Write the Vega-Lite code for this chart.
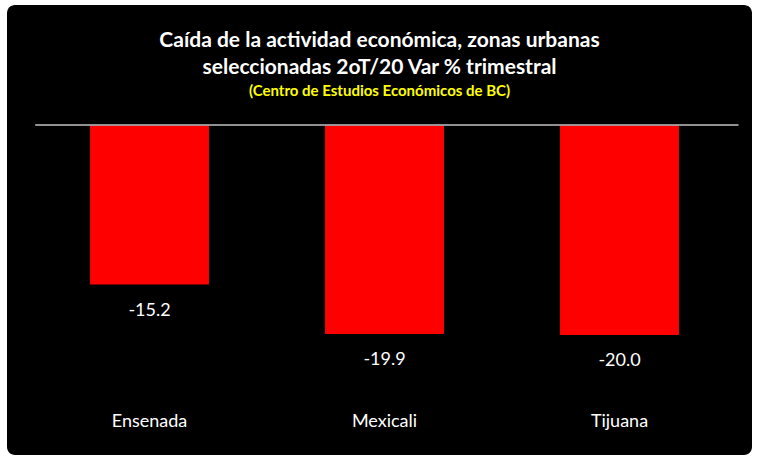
{
  "$schema": "https://vega.github.io/schema/vega-lite/v6.json",
  "autosize": "none",
  "width": 745,
  "height": 450,
  "padding": {"left": 7, "top": 5, "right": 18, "bottom": 15},
  "background": "white",
  "config": {
    "view": {"fill": "#000000", "stroke": null, "cornerRadius": 8},
    "font": "Lato",
    "locale": {"number": {"decimal": ".", "thousands": ",", "grouping": [3], "currency": ["$", ""], "minus": "-"}}
  },
  "title": {
    "text": ["Caída de la actividad económica, zonas urbanas", "seleccionadas 2oT/20 Var % trimestral"],
    "subtitle": "(Centro de Estudios Económicos de BC)",
    "color": "#FFFFFF",
    "font": "Lato",
    "fontSize": 21,
    "fontWeight": "bold",
    "lineHeight": 27,
    "subtitleColor": "#FFFF00",
    "subtitleFont": "Lato",
    "subtitleFontSize": 15,
    "subtitleFontWeight": "bold",
    "subtitlePadding": 6,
    "anchor": "middle",
    "offset": -94
  },
  "data": {
    "values": [
      {"city": "Ensenada", "value": -15.2},
      {"city": "Mexicali", "value": -19.9},
      {"city": "Tijuana", "value": -20.0}
    ]
  },
  "layer": [
    {
      "mark": {"type": "bar", "color": "#FF0000"},
      "encoding": {
        "x": {
          "field": "city",
          "type": "nominal",
          "sort": null,
          "scale": {"range": [25, 730], "paddingInner": 0.494, "paddingOuter": 0.247},
          "axis": {
            "title": null,
            "domain": false,
            "ticks": false,
            "labelAngle": 0,
            "labelColor": "#FFFFFF",
            "labelFont": "Lato",
            "labelFontSize": 18,
            "labelPadding": 0,
            "labelBaseline": "middle",
            "offset": -34
          }
        },
        "y": {
          "field": "value",
          "type": "quantitative",
          "scale": {"domain": [-31.43, 11.43], "nice": false, "zero": false},
          "axis": null
        }
      }
    },
    {
      "mark": {"type": "rule", "color": "#A6A6A6", "strokeWidth": 1},
      "encoding": {
        "x": {"datum": "Ensenada", "type": "nominal", "bandPosition": -0.46},
        "x2": {"datum": "Tijuana", "bandPosition": 1.5},
        "y": {"datum": 0, "type": "quantitative"}
      }
    },
    {
      "mark": {"type": "text", "color": "#FFFFFF", "font": "Lato", "fontSize": 18, "baseline": "middle", "dy": 26},
      "encoding": {
        "x": {"field": "city", "type": "nominal", "sort": null},
        "y": {"field": "value", "type": "quantitative"},
        "text": {"field": "value", "type": "quantitative", "format": ".1f"}
      }
    }
  ]
}
